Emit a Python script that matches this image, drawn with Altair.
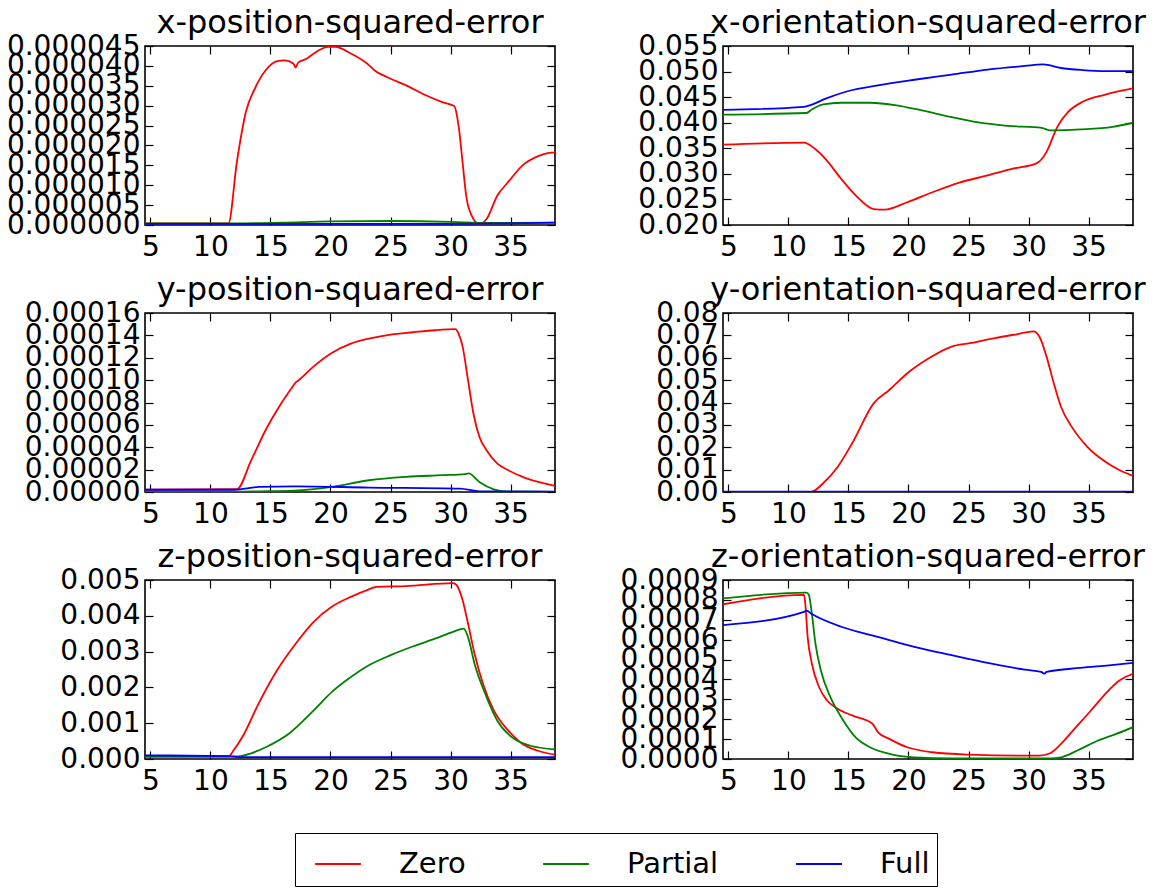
import altair as alt
import pandas as pd

SERIES = ["Zero", "Partial", "Full"]
COLORS = ["#ff0000", "#008000", "#0000ff"]
X_DOMAIN = [4.55, 38.7]
X_TICKS = [5, 10, 15, 20, 25, 30, 35]

# ---- x-position-squared-error (values x 1e-6) ----
xpos_zero_x = [4.55, 11.5, 12.2, 12.95, 13.7, 14.6, 15.55, 16.2, 16.9, 17.1, 17.3, 18.0, 18.9, 19.8, 20.4, 21.7, 23.2, 23.65, 24.7, 26.3, 27.8, 29.3, 30.3, 30.7, 31.0, 31.3, 31.75, 32.4, 33.0, 33.9, 34.8, 36.0, 37.3, 38.4, 38.7]
xpos_zero_y = [0.4, 0.4, 15.8, 28.4, 34.3, 38.9, 41.2, 41.4, 40.6, 39.6, 40.8, 41.8, 43.7, 44.8, 44.8, 43.1, 40.2, 38.9, 37.2, 35.1, 32.8, 30.9, 29.9, 24.2, 15.8, 7.4, 2.4, 0.25, 1.5, 7.4, 10.8, 15.0, 17.3, 18.2, 18.2]
xpos_partial_x = [4.55, 12, 16, 20, 25, 30, 33, 38.7]
xpos_partial_y = [0.4, 0.4, 0.6, 0.9, 1.0, 0.8, 0.5, 0.6]
xpos_full_x = [4.55, 12, 20, 30, 35, 38.7]
xpos_full_y = [0.3, 0.3, 0.3, 0.3, 0.4, 0.6]

# ---- x-orientation-squared-error ----
xori_zero_x = [4.55, 11.3, 12.2, 13.1, 14.4, 15.6, 17.1, 18.0, 19.85, 22.0, 24.1, 26.6, 28.7, 30.7, 31.5, 32.4, 33.3, 34.5, 36.4, 38.7]
xori_zero_y = [0.0357, 0.0361, 0.0349, 0.0329, 0.0290, 0.0258, 0.0231, 0.0230, 0.0244, 0.0264, 0.0282, 0.0297, 0.0310, 0.0321, 0.0343, 0.0392, 0.0421, 0.0441, 0.0455, 0.0467]
xori_partial_x = [4.55, 11.5, 11.95, 12.9, 14.4, 16.8, 19.0, 21.1, 23.6, 25.7, 28.2, 31.1, 31.8, 34.3, 37.0, 38.7]
xori_partial_y = [0.0416, 0.0419, 0.0426, 0.0436, 0.0439, 0.0439, 0.0434, 0.0424, 0.0411, 0.0401, 0.0394, 0.0390, 0.0385, 0.0387, 0.0392, 0.0400]
xori_full_x = [4.55, 11.3, 11.9, 13.1, 15.0, 17.45, 20.5, 23.6, 26.6, 29.7, 31.2, 32.7, 34.5, 36.4, 38.7]
xori_full_y = [0.0425, 0.0431, 0.0435, 0.0447, 0.0462, 0.0473, 0.0484, 0.0494, 0.0504, 0.0511, 0.0514, 0.0507, 0.0503, 0.0501, 0.0501]

# ---- y-position-squared-error (values x 1e-6) ----
ypos_zero_x = [4.55, 12.2, 13.4, 14.6, 15.9, 16.9, 17.1, 17.3, 18.6, 20.1, 21.7, 23.2, 25.0, 26.9, 28.7, 30.4, 30.7, 31.0, 31.45, 31.9, 32.4, 33.0, 33.9, 34.8, 36.0, 37.3, 38.7]
ypos_zero_y = [2.0, 2.5, 28.4, 55.4, 79.3, 95.0, 98.0, 99.5, 112.3, 124.3, 132.6, 137.1, 140.7, 142.8, 144.6, 145.5, 140.7, 130.2, 100.3, 70.4, 49.4, 37.4, 25.4, 19.5, 13.5, 9.0, 5.5]
ypos_partial_x = [4.55, 12, 14, 17, 20.1, 23.2, 26.3, 29.3, 31.2, 31.5, 32.4, 33.6, 34.8, 38.7]
ypos_partial_y = [0.3, 0.3, 0.6, 1.2, 4.5, 10.5, 13.5, 15.0, 16.0, 16.6, 9.0, 2.4, 0.3, 0.2]
ypos_full_x = [4.55, 12, 14, 17.1, 23.2, 30.8, 32.4, 38.7]
ypos_full_y = [2.0, 2.0, 4.5, 5.1, 4.0, 3.0, 0.6, 0.3]

# ---- y-orientation-squared-error ----
yori_zero_x = [4.55, 11.9, 12.1, 12.85, 14.1, 15.3, 17.1, 18.4, 19.9, 21.7, 23.6, 25.1, 27.2, 29.1, 30.4, 30.9, 31.5, 32.1, 32.7, 33.6, 34.9, 36.4, 37.6, 38.7]
yori_zero_y = [0.0, 0.0, 0.0004, 0.0037, 0.0112, 0.0217, 0.0396, 0.0456, 0.0531, 0.0598, 0.0650, 0.0665, 0.0688, 0.0706, 0.0718, 0.0695, 0.0605, 0.0486, 0.0381, 0.0291, 0.0202, 0.0135, 0.0097, 0.0072]
yori_partial_x = [4.55, 38.7]
yori_partial_y = [0.0001, 0.0001]
yori_full_x = [4.55, 38.7]
yori_full_y = [0.0002, 0.0002]

# ---- z-position-squared-error ----
zpos_zero_x = [4.55, 11.5, 11.9, 12.8, 14.0, 15.55, 17.1, 18.6, 20.1, 21.7, 23.2, 23.8, 26.3, 30.2, 30.5, 31.0, 31.45, 32.0, 32.7, 33.6, 34.8, 36.0, 37.3, 38.7]
zpos_zero_y = [0.00007, 0.00007, 0.00023, 0.0007, 0.00154, 0.00248, 0.00322, 0.00383, 0.00425, 0.00453, 0.00474, 0.00481, 0.00483, 0.00491, 0.00486, 0.00444, 0.00379, 0.00294, 0.0021, 0.00136, 0.0008, 0.00042, 0.00023, 0.00012]
zpos_partial_x = [4.55, 12.3, 13.4, 14.6, 16.5, 18.6, 20.1, 21.7, 23.2, 25.0, 26.9, 28.7, 30.2, 31.1, 31.45, 32.0, 33.0, 33.9, 35.1, 36.65, 38.7]
zpos_partial_y = [0.00007, 0.00007, 0.00016, 0.00033, 0.0007, 0.00136, 0.00187, 0.00229, 0.00262, 0.0029, 0.00315, 0.00336, 0.00355, 0.00364, 0.00341, 0.00266, 0.00173, 0.00107, 0.00061, 0.00037, 0.00027]
zpos_full_x = [4.55, 11.5, 12.5, 38.7]
zpos_full_y = [0.0001, 0.00008, 0.00005, 0.00005]

# ---- z-orientation-squared-error ----
zori_zero_x = [4.55, 11.3, 11.4, 11.6, 11.95, 12.55, 13.2, 14.1, 15.3, 17.0, 17.45, 18.4, 19.9, 22.0, 25.1, 29.7, 30.9, 31.8, 32.7, 33.95, 35.2, 36.4, 37.6, 38.7]
zori_zero_y = [0.000778, 0.000825, 0.000783, 0.000614, 0.00048, 0.000362, 0.000295, 0.000253, 0.000219, 0.000177, 0.000135, 0.000101, 0.000059, 0.000034, 0.000022, 0.000017, 0.000017, 0.000029, 0.000076, 0.00016, 0.000244, 0.000328, 0.000396, 0.000428]
zori_partial_x = [4.55, 11.5, 11.7, 11.95, 12.25, 12.7, 13.5, 14.4, 15.6, 16.8, 18.7, 20.5, 23.6, 31.8, 32.7, 34.3, 35.8, 37.3, 38.7]
zori_partial_y = [0.000808, 0.000837, 0.000825, 0.000732, 0.00058, 0.000446, 0.000311, 0.00021, 0.000109, 0.000059, 0.000022, 0.0000084, 0.000003, 0.000003, 0.0000084, 0.00005, 0.000093, 0.000126, 0.00016]
zori_full_x = [4.55, 11.3, 11.5, 11.95, 14.4, 17.45, 20.5, 23.6, 26.6, 29.7, 31.05, 31.3, 31.5, 34.3, 36.7, 38.7]
zori_full_y = [0.000673, 0.00074, 0.000746, 0.000729, 0.000665, 0.000614, 0.000564, 0.000522, 0.000483, 0.000449, 0.000438, 0.000429, 0.000438, 0.000458, 0.000471, 0.000483]

W, H = 410, 179
FONT = "DejaVu Sans"


def make_df(zx, zy, px, py, fx, fy, factor=1.0):
    rows = []
    for name, xs, ys in (("Zero", zx, zy), ("Partial", px, py), ("Full", fx, fy)):
        for a, b in zip(xs, ys):
            rows.append({"x": a, "y": b * factor, "series": name})
    return pd.DataFrame(rows)


def ticks(start, step, n, nd):
    return [round(start + i * step, nd) for i in range(n)]


def panel(title, df, ydomain, yticks, yfmt):
    xs = alt.Scale(domain=X_DOMAIN, nice=False, zero=False)
    ys = alt.Scale(domain=ydomain, nice=False, zero=False)
    base = alt.Chart(df)
    lines = base.mark_line(strokeWidth=1.8, clip=True, interpolate="monotone").encode(
        x=alt.X("x:Q", scale=xs, axis=alt.Axis(orient="bottom", values=X_TICKS, ticks=False, domain=False,
                                                grid=False, title=None, labelPadding=8, labelFlush=False,
                                                labelOverlap=False)),
        y=alt.Y("y:Q", scale=ys, axis=alt.Axis(orient="left", values=yticks, format=yfmt, ticks=False,
                                                domain=False, grid=False, title=None, labelPadding=5,
                                                labelFlush=False, labelOverlap=False)),
        color=alt.Color("series:N", scale=alt.Scale(domain=SERIES, range=COLORS),
                        legend=alt.Legend(title=None, orient="none", legendX=150, legendY=787,
                                          direction="horizontal", symbolType="stroke",
                                          symbolStrokeWidth=1.8, symbolSize=2100, labelFontSize=29,
                                          labelFont=FONT, labelColor="black", labelOffset=37,
                                          columnPadding=64, gridAlign="each", symbolOffset=12,
                                          strokeColor="black", fillColor="white",
                                          padding=7, cornerRadius=0)),
        order=alt.Order("x:Q"),
    )
    h1 = base.mark_line(opacity=0).encode(
        x=alt.X("x:Q", scale=xs, axis=alt.Axis(orient="top", offset=-H, values=X_TICKS, labels=False,
                                                domain=False, ticks=True, tickSize=8, grid=False, title=None)),
        y=alt.Y("y:Q", scale=ys, axis=alt.Axis(orient="right", offset=-W, values=yticks, labels=False,
                                                domain=False, ticks=True, tickSize=8, grid=False, title=None)),
    )
    h2 = base.mark_line(opacity=0).encode(
        x=alt.X("x:Q", scale=xs, axis=alt.Axis(orient="bottom", offset=-H, values=X_TICKS, labels=False,
                                                domain=False, ticks=True, tickSize=8, grid=False, title=None)),
        y=alt.Y("y:Q", scale=ys, axis=alt.Axis(orient="left", offset=-W, values=yticks, labels=False,
                                                domain=False, ticks=True, tickSize=8, grid=False, title=None)),
    )
    return alt.layer(lines, h1, h2).resolve_axis(x="independent", y="independent").properties(
        width=W, height=H,
        title=alt.TitleParams(title, fontSize=32, font=FONT, fontWeight="normal", color="black", offset=-8),
    )


p1 = panel("x-position-squared-error",
           make_df(xpos_zero_x, xpos_zero_y, xpos_partial_x, xpos_partial_y, xpos_full_x, xpos_full_y, 1e-6),
           [0, 0.000045], ticks(0, 0.000005, 10, 7), ".6f")
p2 = panel("x-orientation-squared-error",
           make_df(xori_zero_x, xori_zero_y, xori_partial_x, xori_partial_y, xori_full_x, xori_full_y),
           [0.02, 0.055], ticks(0.02, 0.005, 8, 4), ".3f")
p3 = panel("y-position-squared-error",
           make_df(ypos_zero_x, ypos_zero_y, ypos_partial_x, ypos_partial_y, ypos_full_x, ypos_full_y, 1e-6),
           [0, 0.00016], ticks(0, 0.00002, 9, 6), ".5f")
p4 = panel("y-orientation-squared-error",
           make_df(yori_zero_x, yori_zero_y, yori_partial_x, yori_partial_y, yori_full_x, yori_full_y),
           [0, 0.08], ticks(0, 0.01, 9, 3), ".2f")
p5 = panel("z-position-squared-error",
           make_df(zpos_zero_x, zpos_zero_y, zpos_partial_x, zpos_partial_y, zpos_full_x, zpos_full_y),
           [0, 0.005], ticks(0, 0.001, 6, 4), ".3f")
p6 = panel("z-orientation-squared-error",
           make_df(zori_zero_x, zori_zero_y, zori_partial_x, zori_partial_y, zori_full_x, zori_full_y),
           [0, 0.0009], ticks(0, 0.0001, 10, 5), ".4f")

chart = alt.concat(p1, p2, p3, p4, p5, p6, columns=2, spacing={"row": 11, "column": 62}).properties(
    padding={"left": 5, "top": 6, "right": 5, "bottom": 5},
    background="white",
).configure_axis(
    labelFont=FONT, labelFontSize=28, labelColor="black", tickColor="black", tickWidth=1.2,
).configure_view(
    stroke="black", strokeWidth=1.6,
)

chart.save("out.html", embed_options={"renderer": "svg", "actions": False})
